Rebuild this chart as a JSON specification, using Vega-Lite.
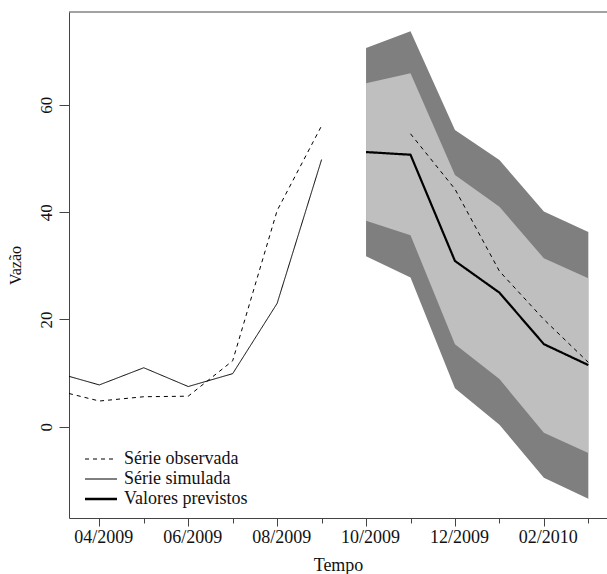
{
  "$schema": "https://vega.github.io/schema/vega-lite/v6.json",
  "width": 538,
  "height": 506,
  "autosize": {"type": "none"},
  "padding": {"left": 69, "top": 12, "right": 0, "bottom": 56},
  "background": "white",
  "config": {
    "view": {"stroke": null},
    "font": "Liberation Serif",
    "axis": {"domainColor": "#444", "tickColor": "#444", "labelColor": "#111", "titleColor": "#111", "labelFont": "Liberation Serif", "titleFont": "Liberation Serif", "titleFontWeight": "normal", "grid": false}
  },
  "datasets": {
    "lines": [
      {"t": 3.318, "v": 6.2, "serie": "Série observada", "seg": "a"},
      {"t": 4, "v": 4.8, "serie": "Série observada", "seg": "a"},
      {"t": 5, "v": 5.6, "serie": "Série observada", "seg": "a"},
      {"t": 6, "v": 5.7, "serie": "Série observada", "seg": "a"},
      {"t": 7, "v": 12.3, "serie": "Série observada", "seg": "a"},
      {"t": 8, "v": 40.3, "serie": "Série observada", "seg": "a"},
      {"t": 9, "v": 56.1, "serie": "Série observada", "seg": "a"},
      {"t": 11, "v": 54.6, "serie": "Série observada", "seg": "b"},
      {"t": 12, "v": 44.3, "serie": "Série observada", "seg": "b"},
      {"t": 13, "v": 29.0, "serie": "Série observada", "seg": "b"},
      {"t": 14, "v": 20.0, "serie": "Série observada", "seg": "b"},
      {"t": 15, "v": 12.0, "serie": "Série observada", "seg": "b"},
      {"t": 3.318, "v": 9.4, "serie": "Série simulada", "seg": "c"},
      {"t": 4, "v": 7.8, "serie": "Série simulada", "seg": "c"},
      {"t": 5, "v": 11.0, "serie": "Série simulada", "seg": "c"},
      {"t": 6, "v": 7.5, "serie": "Série simulada", "seg": "c"},
      {"t": 7, "v": 9.9, "serie": "Série simulada", "seg": "c"},
      {"t": 8, "v": 23.0, "serie": "Série simulada", "seg": "c"},
      {"t": 9, "v": 49.8, "serie": "Série simulada", "seg": "c"},
      {"t": 10, "v": 51.2, "serie": "Valores previstos", "seg": "d"},
      {"t": 11, "v": 50.7, "serie": "Valores previstos", "seg": "d"},
      {"t": 12, "v": 30.9, "serie": "Valores previstos", "seg": "d"},
      {"t": 13, "v": 25.0, "serie": "Valores previstos", "seg": "d"},
      {"t": 14, "v": 15.4, "serie": "Valores previstos", "seg": "d"},
      {"t": 15, "v": 11.5, "serie": "Valores previstos", "seg": "d"}
    ],
    "bands": [
      {"t": 10, "lo95": 31.8, "hi95": 70.6, "lo80": 38.4, "hi80": 64.0},
      {"t": 11, "lo95": 27.8, "hi95": 73.7, "lo80": 35.7, "hi80": 65.9},
      {"t": 12, "lo95": 7.2, "hi95": 55.3, "lo80": 15.4, "hi80": 46.9},
      {"t": 13, "lo95": 0.4, "hi95": 49.7, "lo80": 8.9, "hi80": 41.0},
      {"t": 14, "lo95": -9.5, "hi95": 40.1, "lo80": -1.1, "hi80": 31.4},
      {"t": 15, "lo95": -13.4, "hi95": 36.3, "lo80": -4.9, "hi80": 27.7}
    ]
  },
  "layer": [
    {
      "data": {"name": "bands"},
      "mark": {"type": "area", "color": "#7f7f7f", "clip": true},
      "encoding": {
        "x": {
          "field": "t", "type": "quantitative",
          "scale": {"domain": [3.318, 15.42], "nice": false, "zero": false},
          "axis": {
            "orient": "bottom",
            "values": [4, 5, 6, 7, 8, 9, 10, 11, 12, 13, 14, 15],
            "labelExpr": "datum.value % 2 == 0 ? ((((datum.value - 1) % 12) + 1) < 10 ? '0' : '') + (((datum.value - 1) % 12) + 1) + '/' + (datum.value > 12 ? '2010' : '2009') : ''",
            "tickSize": {"condition": {"test": "datum.value % 2 == 0", "value": 8}, "value": 5},
            "labelFontSize": 18,
            "labelPadding": 2,
            "labelOffset": 4,
            "labelFlush": false,
            "labelOverlap": false,
            "title": "Tempo",
            "titleFontSize": 18,
            "titlePadding": 10
          }
        },
        "y": {
          "field": "lo95", "type": "quantitative",
          "scale": {"domain": [-17.0, 77.3], "nice": false, "zero": false},
          "axis": {
            "orient": "left",
            "values": [0, 20, 40, 60],
            "labelAngle": -90,
            "labelAlign": "center",
            "labelBaseline": "bottom",
            "tickSize": 10,
            "labelPadding": 4,
            "labelFontSize": 17,
            "title": "Vazão",
            "titleFontSize": 16,
            "titlePadding": 14
          }
        },
        "y2": {"field": "hi95"}
      }
    },
    {
      "data": {"name": "bands"},
      "mark": {"type": "area", "color": "#bfbfbf", "clip": true},
      "encoding": {
        "x": {"field": "t", "type": "quantitative"},
        "y": {"field": "lo80", "type": "quantitative"},
        "y2": {"field": "hi80"}
      }
    },
    {
      "data": {"name": "lines"},
      "transform": [{"filter": "datum.serie != 'Valores previstos'"}],
      "mark": {"type": "line", "color": "black", "strokeWidth": 1, "clip": true},
      "encoding": {
        "x": {"field": "t", "type": "quantitative"},
        "y": {"field": "v", "type": "quantitative"},
        "detail": {"field": "seg"},
        "strokeDash": {
          "field": "serie", "type": "nominal",
          "scale": {"domain": ["Série observada", "Série simulada", "Valores previstos"], "range": [[4, 4], [1, 0], [1, 0]]},
          "legend": {
            "title": null, "orient": "none", "legendX": 29, "legendY": 438,
            "symbolType": "M-2.2,0H1", "symbolSize": 400, "symbolStrokeColor": "black",
            "labelFontSize": 18, "labelFont": "Liberation Serif", "labelColor": "#111",
            "labelOffset": 8, "rowPadding": 2,
            "encode": {"symbols": {"update": {"strokeWidth": {"signal": "datum.value === 'Valores previstos' ? 2.4 : 1"}}}}
          }
        }
      }
    },
    {
      "data": {"name": "lines"},
      "transform": [{"filter": "datum.serie == 'Valores previstos'"}],
      "mark": {"type": "line", "color": "black", "strokeWidth": 2.2, "clip": true},
      "encoding": {
        "x": {"field": "t", "type": "quantitative"},
        "y": {"field": "v", "type": "quantitative"},
        "strokeDash": {"field": "serie", "type": "nominal"}
      }
    },
    {
      "data": {"values": [{"top": 77.3}]},
      "mark": {"type": "rule", "color": "#444", "strokeWidth": 1, "clip": false},
      "encoding": {
        "y": {"field": "top", "type": "quantitative"}
      }
    }
  ]
}
